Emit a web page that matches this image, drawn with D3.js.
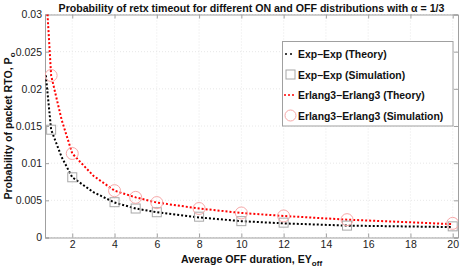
<!DOCTYPE html>
<html><head><meta charset="utf-8">
<script src="https://cdn.jsdelivr.net/npm/d3@7"></script>
<style>body{margin:0;background:#fff}text{font-family:"Liberation Sans",Arial,sans-serif}</style>
</head><body><svg id="c" width="461" height="271"></svg>
<script>
const theoryX = [0.75, 1, 1.5, 2, 3, 4, 5, 6, 8, 10, 12, 15, 20];
const expTheory = [0.0218, 0.0145, 0.0108, 0.0081, 0.0061, 0.0047, 0.0039, 0.0034, 0.0027, 0.0022, 0.0019, 0.0016, 0.0014];
const erlTheory = [0.0338, 0.0218, 0.0158, 0.0113, 0.0083, 0.0063, 0.0054, 0.0047, 0.0039, 0.0033, 0.0029, 0.0024, 0.0018];
const simX = [1, 2, 4, 5, 6, 8, 10, 12, 15, 20];
const expSim = [0.0145, 0.0081, 0.00475, 0.0039, 0.0034, 0.0028, 0.0022, 0.0020, 0.0016, 0.0015];
const erlSim = [0.0218, 0.0113, 0.0063, 0.0054, 0.0047, 0.0039, 0.0033, 0.0029, 0.0024, 0.0019];
const xTicks = [2, 4, 6, 8, 10, 12, 14, 16, 18, 20];
const yTicks = [0, 0.005, 0.01, 0.015, 0.02, 0.025, 0.03];
const yTickLabels = ["0", "0.005", "0.01", "0.015", "0.02", "0.025", "0.03"];
const legendLabels = ["Exp\u2212Exp (Theory)", "Exp\u2212Exp (Simulation)", "Erlang3\u2212Erlang3 (Theory)", "Erlang3\u2212Erlang3 (Simulation)"];

const svg = d3.select("#c");
const L = 45, R = 458, T = 14.5, B = 237.5;
const x = d3.scaleLinear().domain([0.71, 20.25]).range([L, R]);
const y = d3.scaleLinear().domain([0, 0.03]).range([B, T]);

// grid
const g = svg.append("g");
g.selectAll(".gx").data(xTicks).join("line")
  .attr("x1", d => x(d)).attr("x2", d => x(d)).attr("y1", T).attr("y2", B)
  .attr("stroke", "#e2e2e2").attr("stroke-width", 0.8).attr("stroke-dasharray", "1,2");
g.selectAll(".gy").data(yTicks).join("line")
  .attr("x1", L).attr("x2", R).attr("y1", d => y(d)).attr("y2", d => y(d))
  .attr("stroke", "#e2e2e2").attr("stroke-width", 0.8).attr("stroke-dasharray", "1,2");

// axes
const ax = svg.append("g").attr("transform", `translate(0,${B})`)
  .call(d3.axisBottom(x).tickValues(xTicks).tickSize(-4).tickPadding(3));
const axT = svg.append("g").attr("transform", `translate(0,${T})`)
  .call(d3.axisTop(x).tickValues(xTicks).tickSize(-4).tickFormat(""));
const ay = svg.append("g").attr("transform", `translate(${L},0)`)
  .call(d3.axisLeft(y).tickValues(yTicks).tickSize(-4).tickPadding(3).tickFormat((d, i) => yTickLabels[i]));
const ayR = svg.append("g").attr("transform", `translate(${R},0)`)
  .call(d3.axisRight(y).tickValues(yTicks).tickSize(-4).tickFormat(""));
[ax, axT, ay, ayR].forEach(a => {
  a.select(".domain").attr("stroke", "#a0a0a0");
  a.selectAll(".tick line").attr("stroke", "#a0a0a0");
  a.selectAll("text").attr("fill", "#222").style("font-size", "10.5px").style("font-family", "Liberation Sans, Arial, sans-serif");
});

// clip
svg.append("clipPath").attr("id", "clip").append("rect").attr("x", L).attr("y", T).attr("width", R - L).attr("height", B - T);
const plot = svg.append("g").attr("clip-path", "url(#clip)");
const line = d3.line().x(d => x(d[0])).y(d => y(d[1]));

plot.append("path").datum(theoryX.map((v, i) => [v, erlTheory[i]])).attr("d", line)
  .attr("fill", "none").attr("stroke", "#ff0000").attr("stroke-width", 2).attr("stroke-dasharray", "2,2");
plot.append("path").datum(theoryX.map((v, i) => [v, expTheory[i]])).attr("d", line)
  .attr("fill", "none").attr("stroke", "#000").attr("stroke-width", 2).attr("stroke-dasharray", "2,2");

plot.selectAll(".sq").data(simX.map((v, i) => [v, expSim[i]])).join("rect")
  .attr("x", d => x(d[0]) - 4.5).attr("y", d => y(d[1]) - 4.5).attr("width", 9).attr("height", 9)
  .attr("fill", "none").attr("stroke", "#a8a8a8").attr("stroke-width", 1);
plot.selectAll(".ci").data(simX.map((v, i) => [v, erlSim[i]])).join("circle")
  .attr("cx", d => x(d[0])).attr("cy", d => y(d[1])).attr("r", 6)
  .attr("fill", "none").attr("stroke", "#f7a8a8").attr("stroke-width", 1);

// title
svg.append("text").attr("x", (L + R) / 2).attr("y", 11.5).attr("text-anchor", "middle")
  .style("font-size", "10.6px").style("font-weight", "bold").attr("fill", "#111")
  .text("Probability of retx timeout for different ON and OFF distributions with \u03b1 = 1/3");

// x label
const xl = svg.append("text").attr("x", (L + R) / 2).attr("y", 263).attr("text-anchor", "middle")
  .style("font-size", "10.6px").style("font-weight", "bold").attr("fill", "#111");
xl.append("tspan").text("Average OFF duration, EY");
xl.append("tspan").attr("dy", 3).style("font-size", "8px").text("off");

// y label
const yl = svg.append("text").attr("transform", `translate(12,${(T + B) / 2}) rotate(-90)`).attr("text-anchor", "middle")
  .style("font-size", "10.6px").style("font-weight", "bold").attr("fill", "#111");
yl.append("tspan").text("Probability of packet RTO, P");
yl.append("tspan").attr("dy", 3).style("font-size", "8px").text("o");

// legend
const lg = svg.append("g");
lg.append("rect").attr("x", 282.5).attr("y", 41.5).attr("width", 170.5).attr("height", 84.5)
  .attr("fill", "#fff").attr("stroke", "#a0a0a0").attr("stroke-width", 1);
const ly = [54, 74.5, 95, 115.5];
lg.selectAll(".lt").data(legendLabels).join("text")
  .attr("x", 298).attr("y", (d, i) => ly[i] + 4).style("font-size", "10.4px").style("font-weight", "bold").attr("fill", "#111").text(d => d);
lg.append("line").attr("x1", 285).attr("x2", 295).attr("y1", ly[0]).attr("y2", ly[0]).attr("stroke", "#000").attr("stroke-width", 1.5).attr("stroke-dasharray", "2,3");
lg.append("rect").attr("x", 286).attr("y", ly[1] - 4.5).attr("width", 9).attr("height", 9).attr("fill", "none").attr("stroke", "#a8a8a8");
lg.append("line").attr("x1", 284).attr("x2", 296).attr("y1", ly[2]).attr("y2", ly[2]).attr("stroke", "#ff0000").attr("stroke-width", 1.5).attr("stroke-dasharray", "2,2");
lg.append("circle").attr("cx", 290.5).attr("cy", ly[3]).attr("r", 5.5).attr("fill", "none").attr("stroke", "#f7a8a8");
</script></body></html>
